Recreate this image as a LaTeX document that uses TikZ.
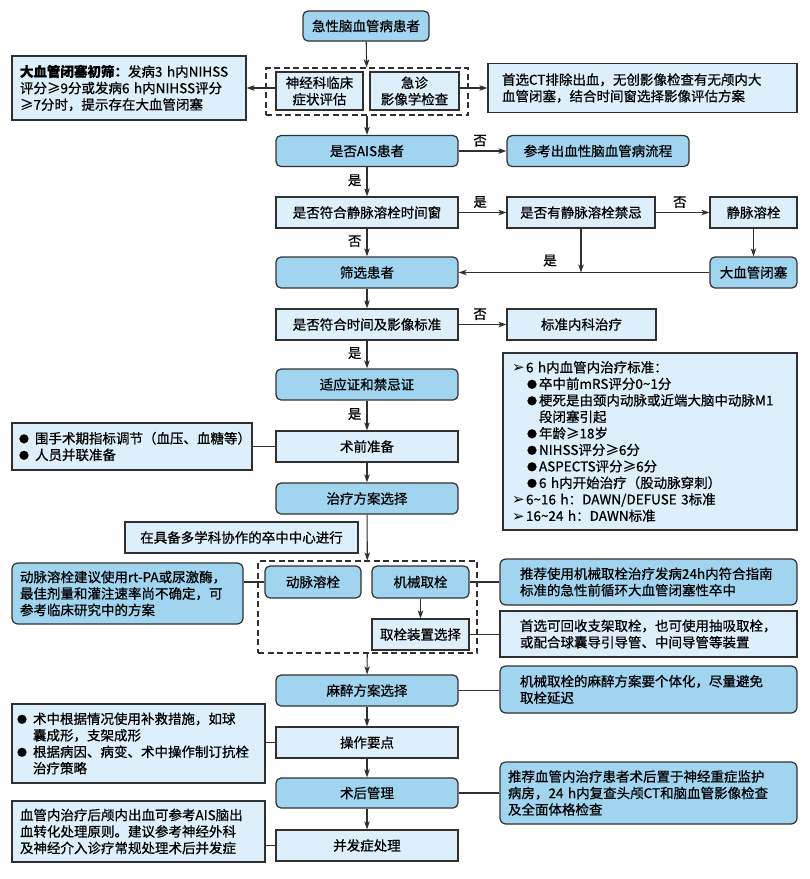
\documentclass[tikz,border=0pt]{standalone}
\usepackage{fontspec}
\setmainfont{Noto Sans CJK SC}[FakeBold=0.6]
\newfontfamily\dejavu{DejaVu Sans}
\usetikzlibrary{arrows.meta,calc}
\definecolor{darkfill}{HTML}{A0D4EF}
\definecolor{lightfill}{HTML}{DCEFFA}
\definecolor{edgecol}{HTML}{303030}
\newcommand{\tl}{\char"7E\relax}
\newcommand{\arrb}{\makebox[14pt][l]{\raisebox{-0.5pt}{\dejavu\fontsize{15}{15}\selectfont ➢}}}
\newcommand{\bulb}{\hspace*{15pt}\makebox[12pt][l]{\raisebox{0.8pt}{\fontsize{10}{10}\selectfont ●}}}
\newcommand{\bulc}{\makebox[16pt][l]{\raisebox{0.8pt}{\fontsize{10}{10}\selectfont ●}}}
\begin{document}
\begin{tikzpicture}[x=1pt,y=-1pt,
  base/.style={draw=edgecol, line width=1.2pt, text=black,
    font=\fontsize{13.5}{16.5}\selectfont, inner sep=0pt, align=center},
  mainL/.style={base, fill=lightfill, minimum width=182pt, minimum height=31pt},
  mainD/.style={base, fill=darkfill, rounded corners=5pt, minimum width=182pt, minimum height=31pt},
  noteL/.style={base, fill=lightfill, align=left, inner ysep=0pt},
  noteD/.style={base, fill=darkfill, rounded corners=6pt, align=left, inner ysep=0pt},
  grp/.style={draw=edgecol, line width=1.1pt, dash pattern=on 6pt off 3.5pt, inner sep=0pt},
  arr/.style={draw=edgecol, line width=1.1pt, -{Stealth[length=8pt,width=5.5pt,inset=2pt]}},
  ln/.style={draw=edgecol, line width=1.1pt},
  lab/.style={font=\fontsize{13.5}{14}\selectfont, inner sep=1pt, text=black}
]
\useasboundingbox[fill=white] (0,0) rectangle (810,879);

% top
\node[mainD, minimum width=126pt, minimum height=30pt] (start) at (366,26) {急性脑血管病患者};
\node[grp, minimum width=202pt, minimum height=47pt] (grp1) at (367,91.5) {};
\node[mainL, minimum width=87pt, minimum height=38pt] (neuro) at (319.5,91) {神经科临床\\症状评估};
\node[mainL, minimum width=89pt, minimum height=38pt] (img) at (414.5,91) {急诊\\影像学检查};
\node[noteL, inner xsep=8pt, text width=218pt, minimum height=64pt] (screen) at (129,88)
  {\textbf{大血管闭塞初筛：}发病3~h内NIHSS\\评分≥9分或发病6~h内NIHSS评分\\≥7分时，提示存在大血管闭塞};
\node[noteL, inner xsep=14pt, text width=281pt, minimum height=49pt] (ct) at (642.5,88)
  {首选CT排除出血，无创影像检查有无颅内大\\血管闭塞，结合时间窗选择影像评估方案};

% decision chain
\node[mainD] (ais) at (367,151) {是否AIS患者};
\node[mainD] (hemo) at (598,151) {参考出血性脑血管病流程};
\node[mainL] (ivtw) at (367,212.5) {是否符合静脉溶栓时间窗};
\node[mainL, minimum width=148pt] (ivc) at (581,212.5) {是否有静脉溶栓禁忌};
\node[mainL, minimum width=87pt] (ivt) at (753.5,212.5) {静脉溶栓};
\node[mainD] (sel) at (367,272.5) {筛选患者};
\node[mainD, minimum width=87pt] (lvo) at (753.5,272.5) {大血管闭塞};
\node[mainL] (crit) at (367,324.5) {是否符合时间及影像标准};
\node[mainL, minimum width=149pt] (med) at (581.5,324.5) {标准内科治疗};
\node[mainD] (ind) at (367,384.5) {适应证和禁忌证};
\node[mainL] (prep) at (367,446.5) {术前准备};
\node[noteL, inner xsep=7pt, text width=226pt, minimum height=47pt] (periop) at (132,446.5)
  {\bulc 围手术期指标调节（血压、血糖等）\\\bulc 人员并联准备};
\node[mainD] (plan) at (367,498.5) {治疗方案选择};
\node[mainL, minimum width=233pt] (cent) at (241.5,537.5) {在具备多学科协作的卒中中心进行};

\node[noteL, inner xsep=9pt, text width=276pt, minimum height=177pt] (crit6) at (650,441.5)
  {\arrb 6~h内血管内治疗标准：\\
   \bulb 卒中前mRS评分0\tl1分\\
   \bulb 梗死是由颈内动脉或近端大脑中动脉M1\\
   \hspace*{27pt}段闭塞引起\\
   \bulb 年龄≥18岁\\
   \bulb NIHSS评分≥6分\\
   \bulb ASPECTS评分≥6分\\
   \bulb 6~h内开始治疗（股动脉穿刺）\\
   \arrb 6\tl16~h：DAWN/DEFUSE~3标准\\
   \arrb 16\tl24~h：DAWN标准};

% treatment group
\node[grp, minimum width=219pt, minimum height=92pt] (grp2) at (367.5,607) {};
\node[mainD, minimum width=96pt, minimum height=32pt] (iat) at (313,582) {动脉溶栓};
\node[mainD, minimum width=97pt, minimum height=32pt] (mt) at (420.5,582) {机械取栓};
\node[mainL, minimum width=97pt, minimum height=31pt] (dev) at (420.5,634.5) {取栓装置选择};
\node[noteD, inner xsep=8pt, text width=215pt, minimum height=61pt] (iatnote) at (127.5,593.5)
  {动脉溶栓建议使用rt-PA或尿激酶，\\最佳剂量和灌注速率尚不确定，可\\参考临床研究中的方案};
\node[noteD, inner xsep=20pt, text width=257pt, minimum height=46pt] (mtnote) at (648.5,582)
  {推荐使用机械取栓治疗发病24h内符合指南\\标准的急性前循环大血管闭塞性卒中};
\node[noteL, inner xsep=20pt, text width=257pt, minimum height=46pt] (devnote) at (648.5,634)
  {首选可回收支架取栓，也可使用抽吸取栓，\\或配合球囊导引导管、中间导管等装置};

% bottom chain
\node[mainD] (anes) at (367,690.5) {麻醉方案选择};
\node[noteD, inner xsep=20pt, text width=257pt, minimum height=47pt] (anesnote) at (648.5,689.5)
  {机械取栓的麻醉方案要个体化，尽量避免\\取栓延迟};
\node[mainL] (op) at (367,742.5) {操作要点};
\node[noteL, inner xsep=5pt, text width=243pt, minimum height=79pt] (opnote) at (138.5,743.5)
  {\bulc 术中根据情况使用补救措施，如球\\\hspace*{16pt}囊成形，支架成形\\\bulc 根据病因、病变、术中操作制订抗栓\\\hspace*{16pt}治疗策略};
\node[mainD, minimum height=30pt] (post) at (367,793) {术后管理};
\node[noteD, inner xsep=8pt, text width=281pt, minimum height=62pt] (postnote) at (648.5,793)
  {推荐血管内治疗患者术后置于神经重症监护\\病房，24~h内复查头颅CT和脑血管影像检查\\及全面体格检查};
\node[mainL] (comp) at (367,845.5) {并发症处理};
\node[noteL, inner xsep=8pt, text width=237pt, minimum height=61pt] (compnote) at (138.5,831.5)
  {血管内治疗后颅内出血可参考AIS脑出\\血转化处理原则。建议参考神经外科\\及神经介入诊疗常规处理术后并发症};

% connectors
\draw[arr] (start) -- (grp1);
\draw[arr] (neuro.west |- screen.east) -- (screen.east);
\draw[arr] (img.east |- ct.west) -- (ct.west);
\draw[arr] (grp1) -- (ais);
\draw[arr] (ais) -- node[lab, above=3pt, pos=0.45] {否} (hemo);
\draw[arr] (ais) -- node[lab, left=4pt, pos=0.45] {是} (ivtw);
\draw[arr] (ivtw) -- node[lab, above=3pt, pos=0.45] {是} (ivc);
\draw[arr] (ivc) -- node[lab, above=3pt, pos=0.45] {否} (ivt);
\draw[arr] (ivtw) -- node[lab, left=4pt, pos=0.45] {否} (sel);
\draw[arr] (ivt) -- (lvo);
\draw[arr] (lvo) -- (sel);
\coordinate (meet) at (ivc.south |- sel.east);
\draw[arr] (ivc) -- (meet);
\node[lab] (yes5) at ($(meet)+(-31,-12)$) {是};
\draw[arr] (sel) -- (crit);
\draw[arr] (crit) -- node[lab, above=3pt, pos=0.45] {否} (med);
\draw[arr] (crit) -- node[lab, left=4pt, pos=0.45] {是} (ind);
\draw[arr] (ind) -- node[lab, left=4pt, pos=0.45] {是} (prep);
\draw[ln] (prep) -- (periop);
\draw[arr] (prep) -- (plan);
\draw[arr] (plan) -- (grp2);
\draw[ln] (iat.west) -- (iat.west -| iatnote.east);
\draw[ln] (mt) -- (mtnote);
\draw[arr] (mt) -- (dev);
\draw[ln] (dev.east) -- (dev.east -| devnote.west);
\draw[arr] (grp2) -- (anes);
\draw[ln] (anes.east) -- (anes.east -| anesnote.west);
\draw[arr] (anes) -- (op);
\draw[ln] (op.west) -- (op.west -| opnote.east);
\draw[arr] (op) -- (post);
\draw[ln] (post) -- (postnote);
\draw[arr] (post) -- (comp);
\draw[ln] (comp.west) -- (comp.west -| compnote.east);
\end{tikzpicture}
\end{document}
